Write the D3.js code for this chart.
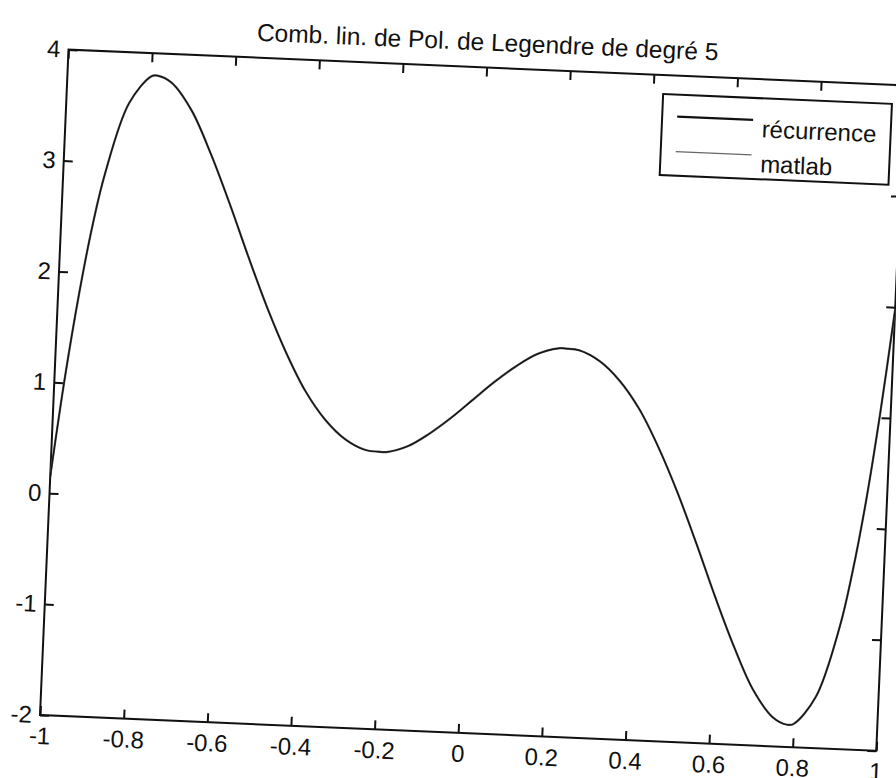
<!DOCTYPE html>
<html lang="fr">
<head>
  <meta charset="UTF-8">
  <title>Comb. lin. de Pol. de Legendre</title>
  <script src="https://d3js.org/d3.v7.min.js" charset="utf-8"></script>
  <style>
    body { margin: 0; background: #fff; }
    text { font-family: "Liberation Sans", Arial, sans-serif; fill: #111; }
  </style>
</head>
<body>
<div class="div1"></div>
<script>
  // valeurs
  var xs = [-1.000, -0.975, -0.950, -0.925, -0.900, -0.850, -0.800, -0.785, -0.750, -0.700,
            -0.650, -0.600, -0.550, -0.500, -0.450, -0.400, -0.350, -0.300, -0.250, -0.220,
            -0.200, -0.150, -0.100, -0.050,  0.000,  0.050,  0.100,  0.150,  0.200,  0.220,
             0.250,  0.300,  0.350,  0.400,  0.450,  0.500,  0.550,  0.600,  0.650,  0.700,
             0.750,  0.785,  0.800,  0.850,  0.900,  0.925,  0.950,  0.975,  1.000]
  var ys = [ 0.15,  1.05,  1.80,  2.42,  2.90,  3.54,  3.79,  3.80,  3.74,  3.50,
             3.12,  2.68,  2.21,  1.76,  1.36,  1.02,  0.77,  0.60,  0.51,  0.50,
             0.50,  0.56,  0.68,  0.83,  1.00,  1.17,  1.32,  1.44,  1.50,  1.50,
             1.49,  1.40,  1.23,  0.98,  0.64,  0.24, -0.21, -0.68, -1.12, -1.50,
            -1.74, -1.80, -1.79, -1.54, -0.90, -0.40,  0.24,  1.04,  1.98]
  var xTicks = [-1, -0.8, -0.6, -0.4, -0.2, 0, 0.2, 0.4, 0.6, 0.8, 1]
  var xTickLabels = ['-1', '-0.8', '-0.6', '-0.4', '-0.2', '0', '0.2', '0.4', '0.6', '0.8', '1']
  var yTicks = [-2, -1, 0, 1, 2, 3, 4]
  var yTickLabels = ['-2', '-1', '0', '1', '2', '3', '4']
  var legendNames = ['récurrence', 'matlab']
  var title = 'Comb. lin. de Pol. de Legendre de degré 5'

  var width = 896
  var height = 778
  var plotW = 837
  var plotH = 666
  // la figure scannée est légèrement tournée
  var angle = 2.45

  var svg = d3.select('.div1')
    .append('svg')
    .attr('width', width)
    .attr('height', height)

  svg.append('rect').attr('width', width).attr('height', height).attr('fill', '#fff')

  var g = svg.append('g')
    .attr('transform', 'translate(68.5,49.6) rotate(' + angle + ')')

  var xScale = d3.scaleLinear().domain([-1, 1]).range([0, plotW])
  var yScale = d3.scaleLinear().domain([-2, 4]).range([plotH, 0])

  function styleAxis(sel){
    sel.select('.domain').remove()
    sel.selectAll('line').attr('stroke', '#111').attr('stroke-width', 2)
    sel.selectAll('text').attr('font-size', 24).attr('fill', '#111')
  }

  // axes
  g.append('g')
    .attr('transform', 'translate(0,' + plotH + ')')
    .call(d3.axisBottom(xScale).tickValues(xTicks)
      .tickFormat((d, i) => xTickLabels[i]).tickSizeInner(-9).tickSizeOuter(0).tickPadding(12))
    .call(styleAxis)

  g.append('g')
    .call(d3.axisTop(xScale).tickValues(xTicks)
      .tickFormat('').tickSizeInner(-9).tickSizeOuter(0))
    .call(styleAxis)

  g.append('g')
    .call(d3.axisLeft(yScale).tickValues(yTicks)
      .tickFormat((d, i) => yTickLabels[i]).tickSizeInner(-9).tickSizeOuter(0).tickPadding(8))
    .call(styleAxis)

  g.append('g')
    .attr('transform', 'translate(' + plotW + ',0)')
    .call(d3.axisRight(yScale).tickValues(yTicks)
      .tickFormat('').tickSizeInner(-9).tickSizeOuter(0))
    .call(styleAxis)

  g.append('rect')
    .attr('width', plotW)
    .attr('height', plotH)
    .attr('fill', 'none')
    .attr('stroke', '#111')
    .attr('stroke-width', 2)

  // courbe (les deux séries se superposent)
  var line = d3.line()
    .x((d, i) => xScale(xs[i]))
    .y((d, i) => yScale(ys[i]))
    .curve(d3.curveCatmullRom.alpha(0.5))

  g.append('path')
    .datum(xs)
    .attr('d', line)
    .attr('fill', 'none')
    .attr('stroke', '#555')
    .attr('stroke-width', 2.2)

  g.append('path')
    .datum(xs)
    .attr('d', line)
    .attr('fill', 'none')
    .attr('stroke', '#111')
    .attr('stroke-width', 1.2)

  // titre
  g.append('text')
    .attr('x', plotW / 2)
    .attr('y', -17)
    .attr('text-anchor', 'middle')
    .attr('font-size', 24.5)
    .text(title)

  // légende
  var lg = g.append('g').attr('transform', 'translate(596,19)')
  lg.append('rect')
    .attr('width', 229)
    .attr('height', 81)
    .attr('fill', '#fff')
    .attr('stroke', '#111')
    .attr('stroke-width', 2)

  lg.selectAll('.legLine')
    .data(legendNames)
    .enter()
    .append('line')
    .attr('class', 'legLine')
    .attr('x1', 15)
    .attr('x2', 91)
    .attr('y1', (d, i) => 22 + i * 35)
    .attr('y2', (d, i) => 22 + i * 35)
    .attr('stroke', (d, i) => i === 0 ? '#111' : '#666')
    .attr('stroke-width', (d, i) => i === 0 ? 2.2 : 1.4)

  lg.selectAll('.legText')
    .data(legendNames)
    .enter()
    .append('text')
    .attr('class', 'legText')
    .attr('x', 100)
    .attr('y', (d, i) => 39 + i * 35)
    .attr('font-size', 24)
    .text(d => d)
</script>
</body>
</html>
